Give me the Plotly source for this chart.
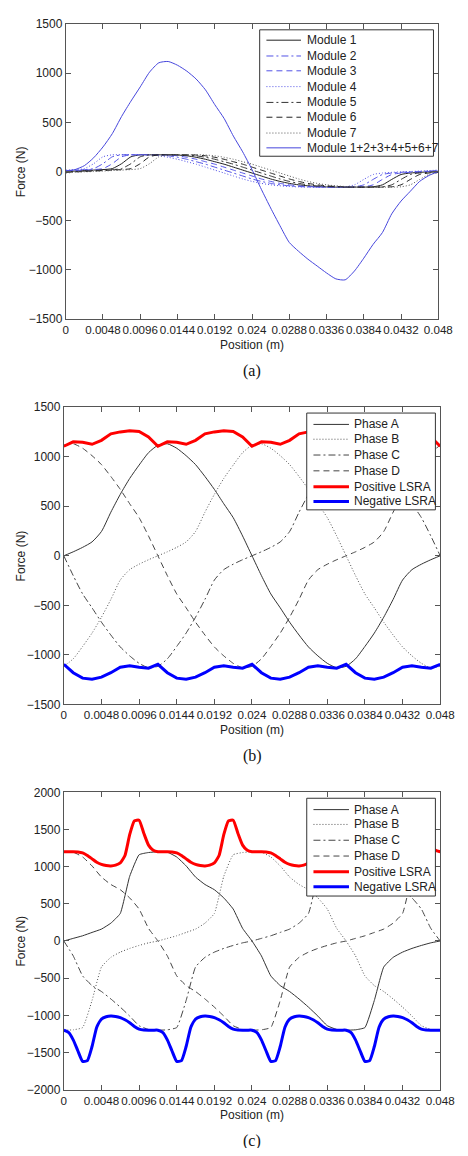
import plotly.graph_objects as go

# page is 468 x 1156; the default 8px body margin is kept, so the figure itself is 452 x 1140
PAGE_W, PAGE_H = 468, 1156
OFF = 8
W, H = PAGE_W - 2 * OFF, PAGE_H - 2 * OFF

# ---------------- data ----------------
position = [0.0, 0.0012, 0.0024, 0.0036, 0.0048, 0.006, 0.0072, 0.0084, 0.0096, 0.0108,
            0.012, 0.0132, 0.0144, 0.0156, 0.0168, 0.018, 0.0192, 0.0204, 0.0216, 0.0228,
            0.024, 0.0252, 0.0264, 0.0276, 0.0288, 0.03, 0.0312, 0.0324, 0.0336, 0.0348,
            0.036, 0.0372, 0.0384, 0.0396, 0.0408, 0.042, 0.0432, 0.0444, 0.0456, 0.0468, 0.048]

position_fine = [0.0, 0.0006, 0.0012, 0.0018, 0.0024, 0.003, 0.0036, 0.0042, 0.0048, 0.0054,
                 0.006, 0.0066, 0.0072, 0.0078, 0.0084, 0.009, 0.0096, 0.0102, 0.0108, 0.0114,
                 0.012, 0.0126, 0.0132, 0.0138, 0.0144, 0.015, 0.0156, 0.0162, 0.0168, 0.0174,
                 0.018, 0.0186, 0.0192, 0.0198, 0.0204, 0.021, 0.0216, 0.0222, 0.0228, 0.0234,
                 0.024, 0.0246, 0.0252, 0.0258, 0.0264, 0.027, 0.0276, 0.0282, 0.0288, 0.0294,
                 0.03, 0.0306, 0.0312, 0.0318, 0.0324, 0.033, 0.0336, 0.0342, 0.0348, 0.0354,
                 0.036, 0.0366, 0.0372, 0.0378, 0.0384, 0.039, 0.0396, 0.0402, 0.0408, 0.0414,
                 0.042, 0.0426, 0.0432, 0.0438, 0.0444, 0.045, 0.0456, 0.0462, 0.0468, 0.0474, 0.048]

tick_vals = [0, 0.0048, 0.0096, 0.0144, 0.0192, 0.024, 0.0288, 0.0336, 0.0384, 0.0432, 0.048]
tick_text = ["0", "0.0048", "0.0096", "0.0144", "0.0192", "0.024", "0.0288", "0.0336", "0.0384", "0.0432", "0.048"]

# (a) module forces
module_1 = [0, 5, 10, 15, 20, 30, 80, 150, 170, 170, 170, 170, 168, 160, 145, 125, 100, 75, 45, 15,
            -15, -45, -75, -100, -120, -135, -145, -152, -156, -158, -158, -158, -158, -155, -135, -80, -30, -15, -8, -3, 0]
module_2 = [10, 15, 20, 30, 80, 150, 170, 170, 170, 170, 168, 160, 145, 125, 100, 75, 45, 15, -15, -45,
            -75, -100, -120, -135, -145, -152, -156, -158, -158, -158, -158, -155, -135, -80, -30, -15, -8, -3, 0, 5, 10]
module_3 = [5, 10, 15, 20, 30, 80, 150, 170, 170, 170, 170, 168, 160, 145, 125, 100, 75, 45, 15, -15,
            -45, -75, -100, -120, -135, -145, -152, -156, -158, -158, -158, -158, -155, -135, -80, -30, -15, -8, -3, 0, 5]
module_4 = [15, 20, 30, 80, 150, 170, 170, 170, 170, 168, 160, 145, 125, 100, 75, 45, 15, -15, -45, -75,
            -100, -120, -135, -145, -152, -156, -158, -158, -158, -158, -155, -135, -80, -30, -15, -8, -3, 0, 5, 10, 15]
module_5 = [-3, 0, 5, 10, 15, 20, 30, 80, 150, 170, 170, 170, 170, 168, 160, 145, 125, 100, 75, 45,
            15, -15, -45, -75, -100, -120, -135, -145, -152, -156, -158, -158, -158, -158, -155, -135, -80, -30, -15, -8, -3]
module_6 = [-8, -3, 0, 5, 10, 15, 20, 30, 80, 150, 170, 170, 170, 170, 168, 160, 145, 125, 100, 75,
            45, 15, -15, -45, -75, -100, -120, -135, -145, -152, -156, -158, -158, -158, -158, -155, -135, -80, -30, -15, -8]
module_7 = [-15, -8, -3, 0, 5, 10, 15, 20, 30, 80, 150, 170, 170, 170, 170, 168, 160, 145, 125, 100,
            75, 45, 15, -15, -45, -75, -100, -120, -135, -145, -152, -156, -158, -158, -158, -158, -155, -135, -80, -30, -15]
module_sum = [0, 20, 60, 140, 250, 385, 560, 715, 860, 1010, 1105, 1118, 1080, 1020, 940, 830, 680, 540, 360, 200,
              20, -180, -370, -550, -720, -810, -890, -960, -1030, -1090, -1100, -1010, -880, -740, -620, -430, -300, -200, -100, -40, 0]

# (b) phase forces
b_phase_a = [0, 40, 85, 140, 245, 440, 620, 780, 915, 1040, 1115, 1130, 1085, 1010, 920, 800, 670, 525, 385, 200,
             0, -200, -385, -525, -670, -800, -920, -1010, -1085, -1130, -1115, -1040, -915, -780, -620, -440, -245, -140, -85, -40, 0]
b_phase_b = [-1115, -1040, -915, -780, -620, -440, -245, -140, -85, -40, 0, 40, 85, 140, 245, 440, 620, 780, 915, 1040,
             1115, 1130, 1085, 1010, 920, 800, 670, 525, 385, 200, 0, -200, -385, -525, -670, -800, -920, -1010, -1085, -1130, -1115]
b_phase_c = [0, -200, -385, -525, -670, -800, -920, -1010, -1085, -1130, -1115, -1040, -915, -780, -620, -440, -245, -140, -85, -40,
             0, 40, 85, 140, 245, 440, 620, 780, 915, 1040, 1115, 1130, 1085, 1010, 920, 800, 670, 525, 385, 200, 0]
b_phase_d = [1115, 1130, 1085, 1010, 920, 800, 670, 525, 385, 200, 0, -200, -385, -525, -670, -800, -920, -1010, -1085, -1130,
             -1115, -1040, -915, -780, -620, -440, -245, -140, -85, -40, 0, 40, 85, 140, 245, 440, 620, 780, 915, 1040, 1115]
b_positive = [1105, 1150, 1145, 1125, 1165, 1230, 1250, 1262, 1255, 1200,
              1105, 1150, 1145, 1125, 1165, 1230, 1250, 1262, 1255, 1200,
              1105, 1150, 1145, 1125, 1165, 1230, 1250, 1262, 1255, 1200,
              1105, 1150, 1145, 1125, 1165, 1230, 1250, 1262, 1255, 1200, 1105]
b_negative = [-1095, -1180, -1235, -1245, -1225, -1180, -1125, -1110, -1125, -1135,
              -1095, -1180, -1235, -1245, -1225, -1180, -1125, -1110, -1125, -1135,
              -1095, -1180, -1235, -1245, -1225, -1180, -1125, -1110, -1125, -1135,
              -1095, -1180, -1235, -1245, -1225, -1180, -1125, -1110, -1125, -1135, -1095]

# (c) phase forces
c_phase_a = [0, 35, 70, 115, 160, 240, 370, 870, 1160, 1190, 1200, 1195, 1130, 1010, 860, 760, 690, 580, 430, 170,
             0, -200, -470, -600, -680, -780, -890, -1010, -1140, -1190, -1200, -1195, -1165, -800, -350, -220, -150, -100, -60, -25, 0]
c_phase_b = [-1200, -1195, -1165, -800, -350, -220, -150, -100, -60, -25, 0, 35, 70, 115, 160, 240, 370, 870, 1160, 1190,
             1200, 1195, 1130, 1010, 860, 760, 690, 580, 430, 170, 0, -200, -470, -600, -680, -780, -890, -1010, -1140, -1190, -1200]
c_phase_c = [0, -200, -470, -600, -680, -780, -890, -1010, -1140, -1190, -1200, -1195, -1165, -800, -350, -220, -150, -100, -60, -25,
             0, 35, 70, 115, 160, 240, 370, 870, 1160, 1190, 1200, 1195, 1130, 1010, 860, 760, 690, 580, 430, 170, 0]
c_phase_d = [1200, 1195, 1130, 1010, 860, 760, 690, 580, 430, 170, 0, -200, -470, -600, -680, -780, -890, -1010, -1140, -1190,
             -1200, -1195, -1165, -800, -350, -220, -150, -100, -60, -25, 0, 35, 70, 115, 160, 240, 370, 870, 1160, 1190, 1200]
c_positive = [1200, 1200, 1200, 1198, 1185, 1150, 1105, 1060, 1030, 1015, 1010, 1020, 1050, 1150, 1430, 1615, 1625, 1450, 1290, 1220,
              1200, 1200, 1200, 1198, 1185, 1150, 1105, 1060, 1030, 1015, 1010, 1020, 1050, 1150, 1430, 1615, 1625, 1450, 1290, 1220,
              1200, 1200, 1200, 1198, 1185, 1150, 1105, 1060, 1030, 1015, 1010, 1020, 1050, 1150, 1430, 1615, 1625, 1450, 1290, 1220,
              1200, 1200, 1200, 1198, 1185, 1150, 1105, 1060, 1030, 1015, 1010, 1020, 1050, 1150, 1430, 1615, 1625, 1450, 1290, 1220, 1200]
c_negative = [-1200, -1230, -1330, -1480, -1620, -1610, -1420, -1160, -1050, -1020, -1010, -1015, -1030, -1060, -1100, -1150, -1185, -1198, -1200, -1200,
              -1200, -1230, -1330, -1480, -1620, -1610, -1420, -1160, -1050, -1020, -1010, -1015, -1030, -1060, -1100, -1150, -1185, -1198, -1200, -1200,
              -1200, -1230, -1330, -1480, -1620, -1610, -1420, -1160, -1050, -1020, -1010, -1015, -1030, -1060, -1100, -1150, -1185, -1198, -1200, -1200,
              -1200, -1230, -1330, -1480, -1620, -1610, -1420, -1160, -1050, -1020, -1010, -1015, -1030, -1060, -1100, -1150, -1185, -1198, -1200, -1200, -1200]

# ---------------- figure ----------------
def px_x(p):
    """page x pixel -> paper fraction of the figure"""
    return (p - OFF) / W

def py(p):
    """page y pixel -> paper fraction of the figure"""
    return 1 - (p - OFF) / H

fig = go.Figure()

BLUE = "#5252e6"
BLUE_SUM = "#4646dc"
SANS = "Liberation Sans, Arial, sans-serif"
TXT = "#222222"

# MATLAB-like line styles
SOLID = "solid"
DOT = "1px,2px"
DASH = "6px,4px"
DASHDOT = "7px,3px,2px,3px"

legend_rows = {"a": [], "b": [], "c": []}

def add(x, y, name, color, dash, width, xa, ya, panel, shape="spline", smooth=0.6):
    fig.add_trace(go.Scatter(x=x, y=y, name=name, mode="lines", showlegend=False,
                             line=dict(color=color, dash=dash, width=width, shape=shape,
                                       smoothing=smooth if shape == "spline" else None),
                             xaxis=xa, yaxis=ya))
    legend_rows[panel].append((name, color, dash, width))

# panel a
add(position, module_1, "Module 1", "#222222", SOLID, 1, "x", "y", "a")
add(position, module_2, "Module 2", BLUE, DASHDOT, 1, "x", "y", "a")
add(position, module_3, "Module 3", BLUE, DASH, 1, "x", "y", "a")
add(position, module_4, "Module 4", BLUE, DOT, 1, "x", "y", "a")
add(position, module_5, "Module 5", "#333333", DASHDOT, 1, "x", "y", "a")
add(position, module_6, "Module 6", "#222222", DASH, 1, "x", "y", "a")
add(position, module_7, "Module 7", "#555555", DOT, 1, "x", "y", "a")
add(position, module_sum, "Module 1+2+3+4+5+6+7", BLUE_SUM, SOLID, 1, "x", "y", "a")

# panel b
add(position, b_phase_a, "Phase A", "#333333", SOLID, 1, "x2", "y2", "b")
add(position, b_phase_b, "Phase B", "#555555", DOT, 1, "x2", "y2", "b")
add(position, b_phase_c, "Phase C", "#444444", DASHDOT, 1, "x2", "y2", "b")
add(position, b_phase_d, "Phase D", "#444444", DASH, 1, "x2", "y2", "b")
add(position, b_positive, "Positive LSRA", "#ff0000", SOLID, 3, "x2", "y2", "b", shape="linear")
add(position, b_negative, "Negative LSRA", "#0000ff", SOLID, 3, "x2", "y2", "b", shape="linear")

# panel c
add(position, c_phase_a, "Phase A", "#333333", SOLID, 1, "x3", "y3", "c", smooth=0.4)
add(position, c_phase_b, "Phase B", "#555555", DOT, 1, "x3", "y3", "c", smooth=0.4)
add(position, c_phase_c, "Phase C", "#444444", DASHDOT, 1, "x3", "y3", "c", smooth=0.4)
add(position, c_phase_d, "Phase D", "#444444", DASH, 1, "x3", "y3", "c", smooth=0.4)
add(position_fine, c_positive, "Positive LSRA", "#ff0000", SOLID, 3, "x3", "y3", "c", smooth=0.5)
add(position_fine, c_negative, "Negative LSRA", "#0000ff", SOLID, 3, "x3", "y3", "c", smooth=0.5)

panels = [
    # (xaxis key, yaxis key, left, right, top, bottom  [page px], yrange, caption)
    ("xaxis", "yaxis", 65, 453, 17, 316, [-1500, 1500], "(a)"),
    ("xaxis2", "yaxis2", 63, 455, 405, 706, [-1500, 1500], "(b)"),
    ("xaxis3", "yaxis3", 63, 455, 795, 1096, [-2000, 2000], "(c)"),
]

axis_common = dict(showline=True, linecolor="#555555", linewidth=1, mirror="allticks",
                   ticks="inside", ticklen=5, tickcolor="#555555", showgrid=False, zeroline=False)

annotations = []
shapes = []
for i, (xk, yk, l, r, t, b, yr, cap) in enumerate(panels):
    suffix = "" if i == 0 else str(i + 1)
    fig.layout[xk] = dict(domain=[px_x(l), min(px_x(r), 1.0)], range=[0, 0.048], tickvals=tick_vals,
                          ticktext=tick_text, tickangle=0, ticklabeloverflow="allow",
                          tickfont=dict(family=SANS, size=11.6, color=TXT),
                          anchor="y" + suffix, **axis_common)
    fig.layout[yk] = dict(domain=[py(b), py(t)], range=yr, dtick=500, anchor="x" + suffix,
                          tickfont=dict(family=SANS, size=12, color=TXT), **axis_common)
    cx = (l + r) / 2
    annotations.append(dict(text="Position (m)", x=px_x(cx), y=py(b + 26), xref="paper", yref="paper",
                            showarrow=False, font=dict(family=SANS, size=12, color=TXT),
                            xanchor="center", yanchor="middle"))
    annotations.append(dict(text="Force (N)", x=px_x(18), y=py((t + b) / 2), xref="paper", yref="paper",
                            showarrow=False, textangle=-90, font=dict(family=SANS, size=12, color=TXT),
                            xanchor="center", yanchor="middle"))
    annotations.append(dict(text=cap, x=px_x(cx), y=py(b + 52), xref="paper", yref="paper",
                            showarrow=False, font=dict(family="Liberation Serif, Times New Roman, serif", size=16, color="#111111"),
                            xanchor="center", yanchor="middle"))

# legend boxes in page px (left, right, top, bottom, first-row centre, row step, sample x0, sample x1, text x)
legend_boxes = {
    "a": (267, 448, 23, 151, 33.3, 15.57, 274, 310, 314),
    "b": (316, 450, 411, 509, 421.7, 15.72, 323, 360, 363),
    "c": (316, 450, 801, 900, 811.7, 15.72, 323, 360, 363),
}
for key, (l, r, t, b, y0, dy, sx0, sx1, tx) in legend_boxes.items():
    shapes.append(dict(type="rect", xref="paper", yref="paper", x0=px_x(l), x1=px_x(r), y0=py(b), y1=py(t),
                       fillcolor="white", line=dict(color="#333333", width=1), layer="above"))
    for k, (name, color, dash, width) in enumerate(legend_rows[key]):
        yy = py(round(y0 + k * dy) + 0.5)
        shapes.append(dict(type="line", xref="paper", yref="paper", x0=px_x(sx0), x1=px_x(sx1), y0=yy, y1=yy,
                           line=dict(color=color, dash=dash, width=width), layer="above"))
        annotations.append(dict(text=name, x=px_x(tx), y=yy, xref="paper", yref="paper", showarrow=False,
                                xanchor="left", yanchor="middle", font=dict(family=SANS, size=12, color=TXT)))

fig.update_layout(
    width=W, height=H, margin=dict(l=0, r=0, t=0, b=0),
    paper_bgcolor="white", plot_bgcolor="white",
    showlegend=False,
    annotations=annotations,
    shapes=shapes,
)

fig.write_html("out.html", config={"displayModeBar": False})
